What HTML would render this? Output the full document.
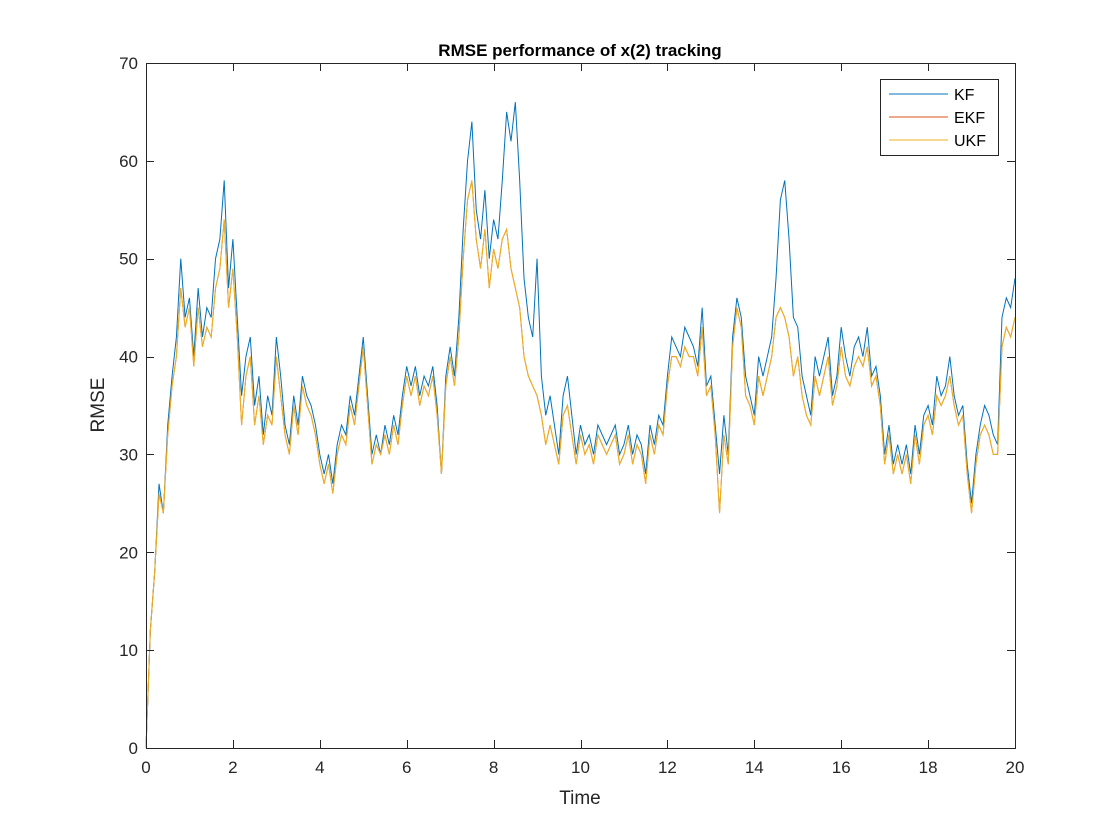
<!DOCTYPE html>
<html><head><meta charset="utf-8"><style>
html,body{margin:0;padding:0;background:#fff;}
svg{display:block;font-family:"Liberation Sans",Arial,sans-serif;}
</style></head><body>
<svg id="chart" width="1120" height="840">
<rect x="0" y="0" width="1120" height="840" fill="#fff"/>
<rect x="146" y="63" width="869" height="685" fill="#fff" stroke="none"/>
<g id="series"></g>
<g id="axes"></g>
<text x="580" y="56" text-anchor="middle" font-size="17" font-weight="bold" fill="#000">RMSE performance of x(2) tracking</text>
<text x="580" y="804" text-anchor="middle" font-size="19" fill="#262626">Time</text>
<text x="104" y="405" text-anchor="middle" font-size="19" fill="#262626" transform="rotate(-90 104 405)">RMSE</text>
<g>
<rect x="880.5" y="79.5" width="118" height="76" fill="#fff" stroke="#262626" stroke-width="1"/>
<line x1="889" y1="94" x2="948" y2="94" stroke="#0072BD" stroke-width="1"/>
<text x="954" y="100" font-size="16" fill="#000">KF</text>
<line x1="889" y1="117" x2="948" y2="117" stroke="#D95319" stroke-width="1"/>
<text x="954" y="123" font-size="16" fill="#000">EKF</text>
<line x1="889" y1="140" x2="948" y2="140" stroke="#EDB120" stroke-width="1"/>
<text x="954" y="146" font-size="16" fill="#000">UKF</text>
</g>
</svg>
<script>
const timeStep = 0.1;
const xTicks = [0,2,4,6,8,10,12,14,16,18,20];
const yTicks = [0,10,20,30,40,50,60,70];
const kfValues = [0,12,18,27,24,33,38,42,50,44,46,40,47,42,45,44,50,52,58,47,52,44,36,40,42,35,38,32,36,34,42,38,33,31,36,33,38,36,35,33,30,28,30,27,31,33,32,36,34,38,42,36,30,32,30,33,31,34,32,36,39,37,39,36,38,37,39,35,28,38,41,38,44,53,60,64,55,52,57,50,54,52,58,65,62,66,58,48,44,42,50,38,34,36,33,30,36,38,34,30,33,31,32,30,33,32,31,32,33,30,31,33,30,32,31,28,33,31,34,33,38,42,41,40,43,42,41,39,45,37,38,33,28,34,30,42,46,44,38,36,34,40,38,40,42,48,56,58,52,44,43,38,36,34,40,38,40,42,36,38,43,40,38,41,42,40,43,38,39,36,30,33,29,31,29,31,28,33,30,34,35,33,38,36,37,40,36,34,35,29,25,30,33,35,34,32,31,44,46,45,48];
const ukfValues = [0,12,18,26,24,32,37,40,47,43,45,39,45,41,43,42,47,49,54,45,49,42,33,38,40,33,36,31,34,33,40,36,32,30,35,32,37,35,34,32,29,27,29,26,30,32,31,35,33,37,41,35,29,31,30,32,30,33,31,35,38,36,38,35,37,36,38,34,28,37,40,37,42,50,56,58,52,49,53,47,51,49,52,53,49,47,45,40,38,37,36,34,31,33,31,29,34,35,32,29,32,30,31,29,32,31,30,31,32,29,30,32,29,31,30,27,32,30,33,32,37,40,40,39,41,40,40,38,43,36,37,32,24,32,29,41,45,43,36,35,33,38,36,38,40,44,45,44,42,38,40,36,34,33,38,36,38,40,35,37,41,38,37,39,40,39,41,37,38,35,29,32,28,30,28,30,27,32,29,33,34,32,36,35,36,38,35,33,34,28,24,29,32,33,32,30,30,41,43,42,44];
const ekfValues = [0,12,18,26,24,32,37,40,47,43,45,39,45,41,43,42,47,49,54,45,49,42,33,38,40,33,36,31,34,33,40,36,32,30,35,32,37,35,34,32,29,27,29,26,30,32,31,35,33,37,41,35,29,31,30,32,30,33,31,35,38,36,38,35,37,36,38,34,28,37,40,37,42,50,56,58,52,49,53,47,51,49,52,53,49,47,45,40,38,37,36,34,31,33,31,29,34,35,32,29,32,30,31,29,32,31,30,31,32,29,30,32,29,31,30,27,32,30,33,32,37,40,40,39,41,40,40,38,43,36,37,32,24,32,29,41,45,43,36,35,33,38,36,38,40,44,45,44,42,38,40,36,34,33,38,36,38,40,35,37,41,38,37,39,40,39,41,37,38,35,29,32,28,30,28,30,27,32,29,33,34,32,36,35,36,38,35,33,34,28,24,29,32,33,32,30,30,41,43,42,44];

const X0=146,X1=1015,Y0=748,Y1=63;
function xs(t){return X0+(t-0)/(20-0)*(X1-X0);}
function ys(v){return Y0-(v-0)/(70-0)*(Y0-Y1);}
const NS="http://www.w3.org/2000/svg";
const sg=document.getElementById('series');
function drawLine(vals,color,name){
  const p=document.createElementNS(NS,'path');
  let d='';
  vals.forEach((v,i)=>{d+=(i?'L':'M')+xs(i*timeStep).toFixed(2)+' '+ys(v).toFixed(2);});
  p.setAttribute('d',d);p.setAttribute('fill','none');p.setAttribute('stroke',color);p.setAttribute('stroke-width','1');
  
  
  sg.appendChild(p);
}
drawLine(kfValues,'#0072BD','kf-line');
drawLine(ekfValues,'#D95319','ekf-line');
drawLine(ukfValues,'#EDB120','ukf-line');

const ag=document.getElementById('axes');
const box=document.createElementNS(NS,'rect');
box.setAttribute('x',X0+0.5);box.setAttribute('y',Y1+0.5);box.setAttribute('width',X1-X0);box.setAttribute('height',Y0-Y1);
box.setAttribute('fill','none');box.setAttribute('stroke','#262626');box.setAttribute('stroke-width','1');


ag.appendChild(box);
xTicks.forEach(t=>{
  const x=Math.round(xs(t))+0.5;
  [[Y0,Y0-8],[Y1,Y1+8]].forEach(([a,b])=>{
    const l=document.createElementNS(NS,'line');
    l.setAttribute('x1',x);l.setAttribute('x2',x);l.setAttribute('y1',a);l.setAttribute('y2',b);l.setAttribute('stroke','#262626');
    
    
    ag.appendChild(l);
  });
  const tx=document.createElementNS(NS,'text');
  tx.setAttribute('x',xs(t));tx.setAttribute('y',Y0+25);tx.setAttribute('text-anchor','middle');tx.setAttribute('font-size','17');tx.setAttribute('fill','#262626');
  tx.textContent=t;
  
  
  ag.appendChild(tx);
});
yTicks.forEach(v=>{
  const y=Math.round(ys(v))+0.5;
  [[X0,X0+8],[X1,X1-8]].forEach(([a,b])=>{
    const l=document.createElementNS(NS,'line');
    l.setAttribute('x1',a);l.setAttribute('x2',b);l.setAttribute('y1',y);l.setAttribute('y2',y);l.setAttribute('stroke','#262626');
    
    
    ag.appendChild(l);
  });
  const tx=document.createElementNS(NS,'text');
  tx.setAttribute('x',X0-8);tx.setAttribute('y',ys(v)+6);tx.setAttribute('text-anchor','end');tx.setAttribute('font-size','17');tx.setAttribute('fill','#262626');
  tx.textContent=v;
  
  
  ag.appendChild(tx);
});
</script>
</body></html>
